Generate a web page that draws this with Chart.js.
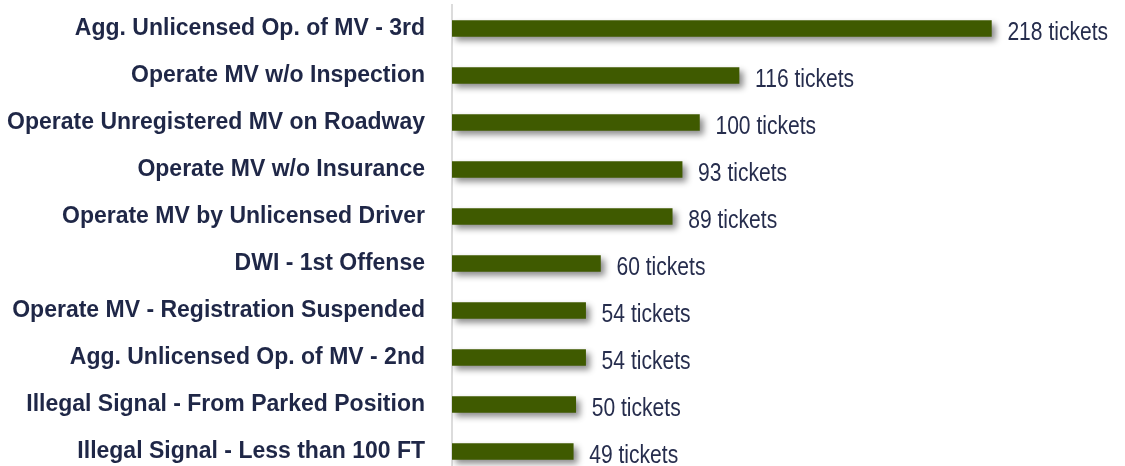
<!DOCTYPE html>
<html>
<head>
<meta charset="utf-8">
<script src="https://cdn.jsdelivr.net/npm/chart.js@4"></script>
<style>
    html, body { margin: 0; padding: 0; background: #ffffff; overflow: hidden; }
    #wrap { width: 1125px; height: 475px; }
</style>
</head>
<body>
<div id="wrap"><canvas id="myChart"></canvas></div>
<script>
// Нарушения и количество штрафов
const categories = [
    'Agg. Unlicensed Op. of MV - 3rd',
    'Operate MV w/o Inspection',
    'Operate Unregistered MV on Roadway',
    'Operate MV w/o Insurance',
    'Operate MV by Unlicensed Driver',
    'DWI - 1st Offense',
    'Operate MV - Registration Suspended',
    'Agg. Unlicensed Op. of MV - 2nd',
    'Illegal Signal - From Parked Position',
    'Illegal Signal - Less than 100 FT'
];
const tickets = [218, 116, 100, 93, 89, 60, 54, 54, 50, 49];
const valueSuffix = ' tickets';

// Тень под столбцами + подписи значений
const barDecor = {
    id: 'barDecor',
    beforeDatasetsDraw(chart) {
        const ctx = chart.ctx;
        ctx.save();
        ctx.shadowColor = 'rgba(0, 0, 0, 0.45)';
        ctx.shadowBlur = 6;
        ctx.shadowOffsetX = 4;
        ctx.shadowOffsetY = 4;
    },
    afterDatasetsDraw(chart) {
        const ctx = chart.ctx;
        ctx.restore();
        const meta = chart.getDatasetMeta(0);
        ctx.font = '26px "Liberation Sans", Arial, sans-serif';
        ctx.fillStyle = '#262d4d';
        ctx.textAlign = 'left';
        ctx.textBaseline = 'alphabetic';
        meta.data.forEach((bar, i) => {
            // узкий шрифт имитируем сжатием по горизонтали
            ctx.save();
            ctx.translate(bar.x + 16, bar.y + 11);
            ctx.scale(0.81, 1);
            ctx.fillText(tickets[i] + valueSuffix, 0, 0);
            ctx.restore();
        });
    }
};

const ctx = document.getElementById('myChart').getContext('2d');
const myChart = new Chart(ctx, {
    type: 'bar',
    data: {
        labels: categories,
        datasets: [{
            data: tickets,
            backgroundColor: '#3f5a00',
            borderWidth: 0,
            barThickness: 16
        }]
    },
    options: {
        indexAxis: 'y',
        responsive: true,
        maintainAspectRatio: false,
        animation: false,
        layout: { padding: { top: 5, right: 0, bottom: 0, left: 0 } },
        plugins: {
            legend: { display: false },
            tooltip: { enabled: false }
        },
        scales: {
            x: {
                display: false,
                min: 0,
                max: 272
            },
            y: {
                afterFit(scale) {
                    scale.width = 452;
                    scale.paddingTop = 0;
                    scale.paddingBottom = 0;
                },
                grid: { display: false, drawTicks: false },
                border: { display: true, color: '#dcdcdc', width: 2 },
                ticks: {
                    padding: 27,
                    color: '#1f2747',
                    font: { family: '"Liberation Sans", Arial, sans-serif', size: 23, weight: 'bold' }
                }
            }
        }
    },
    plugins: [barDecor]
});
</script>
</body>
</html>
